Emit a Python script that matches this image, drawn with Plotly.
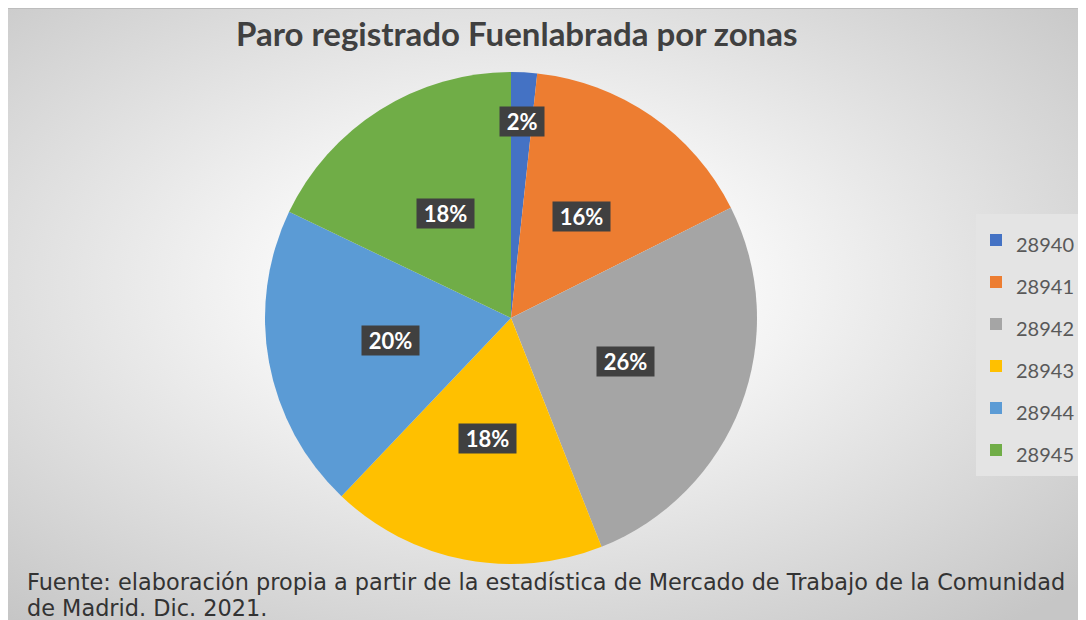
import math
import base64
import plotly.graph_objects as go

# ---- data ----
zones = ["28940", "28941", "28942", "28943", "28944", "28945"]
shares = [1.7, 15.9, 26.4, 18.1, 20.0, 17.9]
colors = ["#4472C4", "#ED7D31", "#A5A5A5", "#FFC000", "#5B9BD5", "#70AD47"]
title_text = "Paro registrado Fuenlabrada por zonas"
source_line1 = "Fuente: elaboración propia a partir de la estadística de Mercado de Trabajo de la Comunidad"
source_line2 = "de Madrid. Dic. 2021."

# page body has an 8px margin; figure sized to fit the 1086x620 window
OFF = 8
W, H = 1086 - OFF, 620 - OFF


def px(sx):
    return (sx - OFF) / W


def py(sy):
    return (H - (sy - OFF)) / H


# pie geometry (screen pixels)
scx, scy, R = 511, 318, 246

fig = go.Figure()
fig.add_trace(go.Pie(
    labels=[f'<span style="font-size:20px">{z}</span>' for z in zones],
    values=shares, sort=False, direction="clockwise", rotation=0,
    marker=dict(colors=colors, line=dict(width=0)),
    textinfo="none", hovertemplate="%{label}: %{percent}<extra></extra>",
    domain=dict(x=[px(scx - R), px(scx + R)], y=[py(scy + R), py(scy - R)]),
    showlegend=True,
))

# data labels (dark boxes) at slice mid-angles
total = sum(shares)
cum = 0.0
annotations = []
for z, v in zip(zones, shares):
    mid = (cum + v / 2) / total * 2 * math.pi
    cum += v
    rr = 0.8 * R if v / total < 0.05 else 0.5 * R
    annotations.append(dict(
        x=px(scx + rr * math.sin(mid)), y=py(scy - rr * math.cos(mid)),
        xref="paper", yref="paper",
        text=f"&nbsp;<b>{round(v / total * 100)}%</b>&nbsp;", showarrow=False,
        font=dict(family="Lato", size=22, color="white"),
        bgcolor="#404040", borderpad=1,
        xanchor="center", yanchor="middle",
    ))

annotations.append(dict(
    x=px(516), y=py(33), xref="paper", yref="paper",
    text=f"<b>{title_text}</b>", showarrow=False,
    font=dict(family="Lato", size=33, color="#404040"),
    xanchor="center", yanchor="middle",
))
for line, sy in ((source_line1, 582), (source_line2, 608)):
    annotations.append(dict(
        x=px(26), y=py(sy), xref="paper", yref="paper",
        text=line, showarrow=False, align="left",
        font=dict(family="DejaVu Sans", size=22.4, color="#333333"),
        xanchor="left", yanchor="middle", borderpad=0,
    ))

# radial gradient background via inline SVG
svg = ('<svg xmlns="http://www.w3.org/2000/svg" width="1078" height="612" viewBox="0 0 1078 612" '
       'preserveAspectRatio="none"><defs><radialGradient id="g" cx="0.47" cy="0.45" r="0.72">'
       '<stop offset="0" stop-color="#ffffff"/><stop offset="0.3" stop-color="#f7f7f7"/>'
       '<stop offset="1" stop-color="#c6c6c6"/></radialGradient></defs>'
       '<rect x="0" y="0" width="1078" height="612" fill="url(#g)"/>'
       '<rect x="0" y="0" width="1078" height="1" fill="#bdbdbd"/></svg>')
src = "data:image/svg+xml;base64," + base64.b64encode(svg.encode()).decode()

fig.update_layout(
    width=W, height=H,
    margin=dict(l=0, r=0, t=0, b=0),
    paper_bgcolor="white",
    images=[dict(source=src, xref="paper", yref="paper", x=0, y=1,
                 sizex=1, sizey=1, sizing="stretch",
                 xanchor="left", yanchor="top", layer="below")],
    annotations=annotations,
    legend=dict(
        x=px(976), y=py(214), xanchor="left", yanchor="top",
        bgcolor="#e4e4e4", borderwidth=0,
        font=dict(family="Lato", size=30, color="#595959"),
        itemclick=False, itemdoubleclick=False,
    ),
)

fig.write_html("out.html")
